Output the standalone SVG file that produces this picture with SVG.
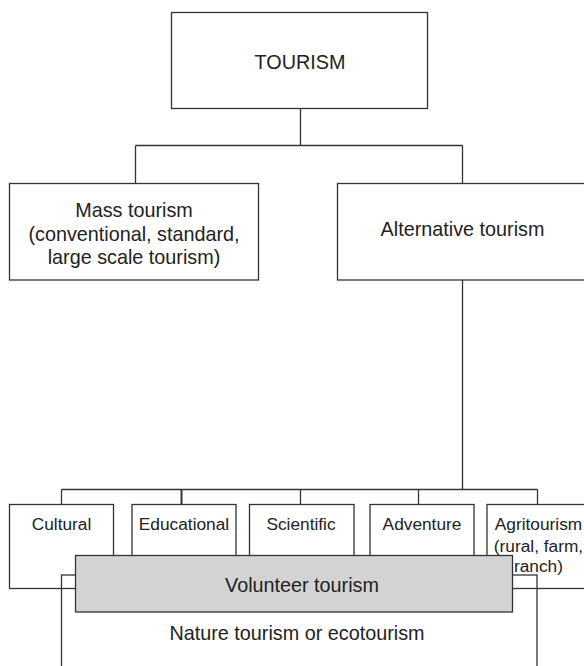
<svg xmlns="http://www.w3.org/2000/svg" width="584" height="666" viewBox="0 0 584 666">
<style>
.box{fill:#fff;stroke:#333;stroke-width:1.3}
.open{fill:none;stroke:#333;stroke-width:1.3}
.vol{fill:#d3d3d4;stroke:#333;stroke-width:1.3}
.conn{fill:none;stroke:#333;stroke-width:1.3}
text{font-family:"Liberation Sans",Arial,sans-serif;fill:#222;text-anchor:middle}
.big{font-size:19.8px}
.small{font-size:17.3px}
</style>
<rect width="584" height="666" fill="#fff"/>
<g id="connectors">
<path class="conn" d="M300.5 108.5V145.5M135.5 145.5H462.5M135.5 145.5V183.5M462.5 145.5V183.5"/>
<path class="conn" d="M462.5 280V489.5M61.5 489.5H537.5M61.5 489.5V504.5M300.5 489.5V504.5M418.5 489.5V504.5M537.5 489.5V504.5"/>
<path class="conn" d="M181.5 489.5V504.5" style="stroke-width:2"/>
</g>
<g id="tourism">
<rect class="box" x="171.5" y="12.5" width="256" height="96"/>
<text class="big" x="300" y="69">TOURISM</text>
</g>
<g id="mass">
<rect class="box" x="9.5" y="183.5" width="249" height="96.5"/>
<text class="big" x="134" y="217.3">Mass tourism</text>
<text class="big" x="134" y="240.5">(conventional, standard,</text>
<text class="big" x="134" y="263.6">large scale tourism)</text>
</g>
<g id="alternative">
<rect class="box" x="337.5" y="183.5" width="250" height="96.5"/>
<text class="big" x="462.5" y="236">Alternative tourism</text>
</g>
<g id="cultural">
<rect class="box" x="9.5" y="504.5" width="104" height="84"/>
<text class="small" x="61.5" y="530">Cultural</text>
</g>
<g id="educational">
<rect class="box" x="132" y="504.5" width="104" height="84"/>
<text class="small" x="184" y="530">Educational</text>
</g>
<g id="scientific">
<rect class="box" x="249.5" y="504.5" width="104.5" height="84"/>
<text class="small" x="301" y="530">Scientific</text>
</g>
<g id="adventure">
<rect class="box" x="370" y="504.5" width="104" height="84"/>
<text class="small" x="422" y="530">Adventure</text>
</g>
<g id="agritourism">
<rect class="box" x="487" y="504.5" width="101" height="84"/>
<text class="small" x="538.5" y="529.5">Agritourism</text>
<text class="small" x="538.5" y="551.5">(rural, farm,</text>
<text class="small" x="538.5" y="571.7">ranch)</text>
</g>
<g id="nature">
<rect class="open" x="61.5" y="575" width="475.5" height="110"/>
<text class="big" x="297" y="640">Nature tourism or ecotourism</text>
</g>
<g id="volunteer">
<rect class="vol" x="75.5" y="555.5" width="437" height="56.5"/>
<text class="big" x="302" y="591.7">Volunteer tourism</text>
</g>
</svg>
